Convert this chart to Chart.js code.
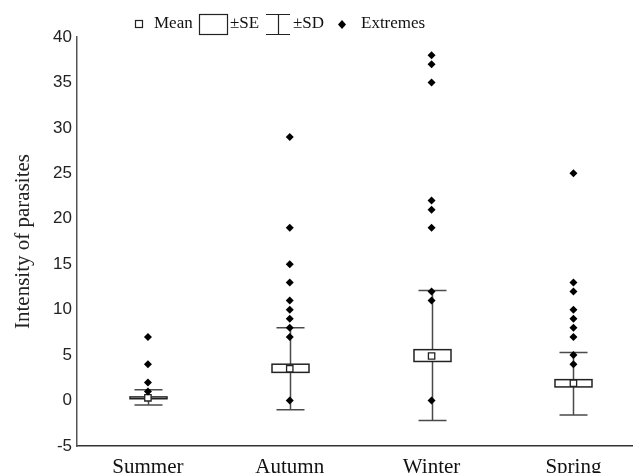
<!DOCTYPE html>
<html>
<head>
<meta charset="utf-8">
<script src="https://cdn.jsdelivr.net/npm/chart.js@4"></script>
<style>
  body { margin: 0; background: #fff; }
  #wrap { width: 633px; height: 473px; position: relative; }
</style>
</head>
<body>
<div id="wrap"><canvas id="chart"></canvas></div>
<script>
// seasons on the x axis
const seasons = ['Summer', 'Autumn', 'Winter', 'Spring'];

// mean, ±SE and ±SD per season
const means  = [0.3, 3.5, 4.9, 1.9];
const seLow  = [0.2, 3.1, 4.3, 1.5];
const seHigh = [0.4, 4.0, 5.6, 2.3];
const sdLow  = [-0.5, -1.0, -2.2, -1.6];
const sdHigh = [1.2, 8.0, 12.1, 5.3];

// extreme values (diamonds)
const summerExt = [7, 4, 2, 1];
const autumnExt = [29, 19, 15, 13, 11, 10, 9, 8, 7, 0];
const winterExt = [38, 37, 35, 22, 21, 19, 12, 11, 0];
const springExt = [25, 13, 12, 10, 9, 8, 7, 5, 4];

const yTicks = [-5, 0, 5, 10, 15, 20, 25, 30, 35, 40];

const extremes = [summerExt, autumnExt, winterExt, springExt];
const extremePoints = [];
extremes.forEach((list, i) => list.forEach(v => extremePoints.push({ x: i, y: v })));
const meanPoints = means.map((v, i) => ({ x: i, y: v }));

const SERIF = '"Liberation Serif", "Times New Roman", serif';
const SANS = '"Liberation Sans", Arial, sans-serif';

// draws SE boxes, SD whiskers and the legend
const boxPlugin = {
    id: 'boxes',
    beforeDatasetsDraw(chart) {
        const { ctx, scales: { x, y } } = chart;
        ctx.save();
        seasons.forEach((s, i) => {
            const cx = Math.round(x.getPixelForValue(i)) + 0.5;
            const yLo = y.getPixelForValue(sdLow[i]);
            const yHi = y.getPixelForValue(sdHigh[i]);
            // whisker
            ctx.strokeStyle = '#4a4a4a';
            ctx.lineWidth = 1.5;
            ctx.beginPath();
            ctx.moveTo(cx, yLo); ctx.lineTo(cx, yHi);
            ctx.moveTo(cx - 14, yLo); ctx.lineTo(cx + 14, yLo);
            ctx.moveTo(cx - 14, yHi); ctx.lineTo(cx + 14, yHi);
            ctx.stroke();
            // SE box
            const top = y.getPixelForValue(seHigh[i]);
            const bot = y.getPixelForValue(seLow[i]);
            ctx.fillStyle = '#fff';
            ctx.fillRect(cx - 18.5, top, 37, bot - top);
            ctx.strokeStyle = '#222';
            ctx.lineWidth = 1.5;
            ctx.strokeRect(cx - 18.5, top, 37, bot - top);
        });
        ctx.restore();
    },
    afterDraw(chart) {
        const ctx = chart.ctx;
        ctx.save();
        ctx.font = '17px ' + SERIF;
        ctx.fillStyle = '#111';
        ctx.textBaseline = 'middle';
        ctx.strokeStyle = '#222';
        ctx.lineWidth = 1.2;
        // mean icon
        ctx.strokeRect(135.5, 20.5, 7, 7);
        ctx.fillText('Mean', 154, 24);
        // SE icon
        ctx.strokeRect(199.5, 14.5, 28, 20);
        ctx.fillText('±SE', 230, 24);
        // SD icon
        ctx.beginPath();
        ctx.moveTo(266, 14.5); ctx.lineTo(290, 14.5);
        ctx.moveTo(278.5, 14.5); ctx.lineTo(278.5, 34.5);
        ctx.moveTo(266, 34.5); ctx.lineTo(290, 34.5);
        ctx.stroke();
        ctx.fillText('±SD', 293, 24);
        // extremes icon
        ctx.beginPath();
        ctx.moveTo(342, 20); ctx.lineTo(346, 24.5); ctx.lineTo(342, 29); ctx.lineTo(338, 24.5);
        ctx.closePath();
        ctx.fillStyle = '#000';
        ctx.fill();
        ctx.fillStyle = '#111';
        ctx.fillText('Extremes', 361, 24);
        ctx.restore();
    }
};

new Chart(document.getElementById('chart'), {
    type: 'scatter',
    data: {
        datasets: [
            {
                label: 'Extremes',
                data: extremePoints,
                pointStyle: 'rectRot',
                radius: 4,
                backgroundColor: '#000',
                borderColor: '#000',
                borderWidth: 0
            },
            {
                label: 'Mean',
                data: meanPoints,
                pointStyle: 'rect',
                radius: 4.5,
                backgroundColor: '#fff',
                borderColor: '#222',
                borderWidth: 1.3
            }
        ]
    },
    options: {
        responsive: true,
        maintainAspectRatio: false,
        animation: false,
        devicePixelRatio: 1,
        layout: { autoPadding: false, padding: { top: 37, right: 0, bottom: 0, left: 0 } },
        plugins: {
            legend: { display: false },
            tooltip: { enabled: false }
        },
        scales: {
            x: {
                type: 'linear',
                min: -0.5,
                max: 3.42,
                afterBuildTicks: scale => {
                    scale.ticks = seasons.map((s, i) => ({ value: i }));
                },
                afterFit: scale => { scale.height = 27; },
                grid: { display: false, drawTicks: false },
                border: { display: true, color: '#333', width: 1.5 },
                ticks: {
                    callback: v => seasons[v] ?? '',
                    color: '#111',
                    padding: 9,
                    maxRotation: 0,
                    font: { family: SERIF, size: 21 }
                }
            },
            y: {
                min: -5,
                max: 40,
                afterBuildTicks: scale => {
                    scale.ticks = yTicks.map(v => ({ value: v }));
                },
                afterFit: scale => { scale.width = 77; },
                grid: { display: false, drawTicks: false },
                border: { display: true, color: '#555', width: 1.5 },
                ticks: {
                    color: '#222',
                    padding: 5,
                    font: { family: SANS, size: 17 }
                },
                title: {
                    display: true,
                    text: 'Intensity of parasites',
                    color: '#222',
                    padding: { top: 11, bottom: 0 },
                    font: { family: SERIF, size: 21 }
                }
            }
        }
    },
    plugins: [boxPlugin]
});
</script>
</body>
</html>
